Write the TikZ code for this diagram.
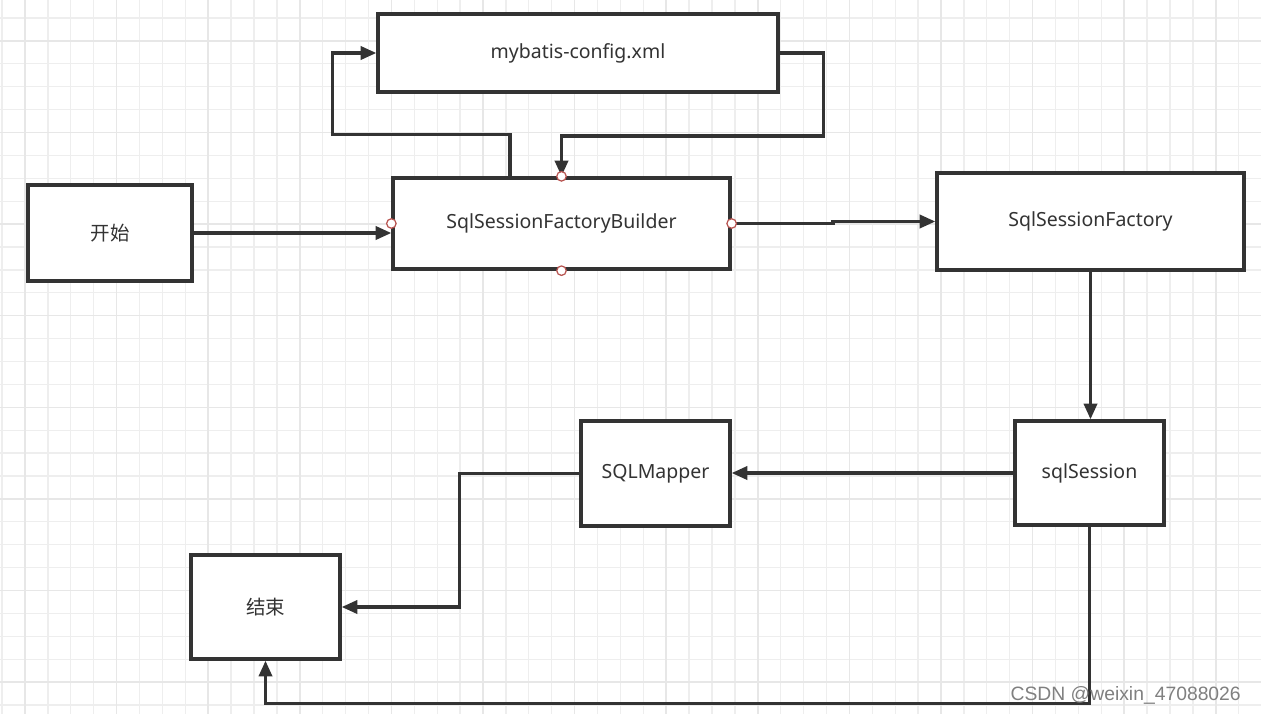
\documentclass[tikz,border=0pt]{standalone}
\usepackage{fontspec}
\setmainfont{Noto Sans}
\newfontfamily\cjk{Noto Sans CJK SC}
\newfontfamily\wmfont{Liberation Sans}
\usetikzlibrary{arrows.meta}
\definecolor{ink}{HTML}{333333}
\definecolor{gridminor}{HTML}{EEEEEE}
\definecolor{gridmajor}{HTML}{E7E7E7}
\definecolor{portred}{HTML}{B85450}
\tikzset{
	box/.style = {draw=ink, line width=1.9pt, fill=white, text=ink, font=\fontsize{11.1}{13}\selectfont, inner sep=0pt},
	flow/.style = {draw=ink, line width=1.9pt, -{Triangle[length=9pt,width=7.5pt]}},
	port/.style = {circle, draw=portred, fill=white, line width=0.7pt, inner sep=0pt, minimum size=0.19cm},
}

\begin{document}
\begin{tikzpicture}[x=0.02cm, y=-0.02cm]
	% paper and grid
	\fill[white] (0,0) rectangle (1261,714);
	\useasboundingbox (0,0) rectangle (1261,714);
	\foreach \i in {0,...,55} \draw[gridminor, line width=0.7pt] (2.1+22.9*\i,0) -- (2.1+22.9*\i,714);
	\foreach \j in {0,...,30} \draw[gridminor, line width=0.7pt] (0,18+22.9*\j) -- (1261,18+22.9*\j);
	\foreach \i in {1,5,...,53} \draw[gridmajor, line width=0.9pt] (2.1+22.9*\i,0) -- (2.1+22.9*\i,714);
	\foreach \j in {1,5,...,29} \draw[gridmajor, line width=0.9pt] (0,18+22.9*\j) -- (1261,18+22.9*\j);
	% boxes
	\node[box, minimum width=8cm, minimum height=1.56cm] (config) at (578,53) {mybatis-config.xml};
	\node[box, minimum width=6.74cm, minimum height=1.82cm] (builder) at (561.5,223.5) {SqlSessionFactoryBuilder};
	\node[box, minimum width=3.28cm, minimum height=1.92cm] (start) at (110,233) {\cjk 开始};
	\node[box, minimum width=6.14cm, minimum height=1.94cm] (factory) at (1090.5,221.5) {SqlSessionFactory};
	\node[box, minimum width=2.98cm, minimum height=2.08cm] (session) at (1089.5,473) {sqlSession};
	\node[box, minimum width=2.98cm, minimum height=2.1cm] (mapper) at (655.5,473.5) {SQLMapper};
	\node[box, minimum width=2.98cm, minimum height=2.08cm] (end) at (265.5,607) {\cjk 结束};
	% connectors
	\draw[flow] (start.east) -- (start.east -| builder.west);
	\draw[flow] ([xshift=-1.03cm]builder.north) -- ++(0,-42) -| ([xshift=-0.88cm]config.west) -- (config.west);
	\draw[flow] (config.east) -- ++(44,0) -- ++(0,83) -| (builder.north);
	\draw[flow] (builder.east) -| (833,221.5) -- (factory.west);
	\draw[flow] (factory.south) -- (factory.south |- session.north);
	\draw[flow] (session.west) -- (session.west -| mapper.east);
	\draw[flow] (mapper.west) -- ++(-120,0) |- (end.east);
	\draw[flow] (session.south) -- ++(0,177) -| (end.south);
	\foreach \a in {north,south,east,west} \node[port] at (builder.\a) {};
	\node[text=black!50, font=\wmfont\fontsize{11}{13}\selectfont, anchor=east] (mark) at (1247,695) {CSDN @weixin\_47088026};
\end{tikzpicture}
\end{document}
